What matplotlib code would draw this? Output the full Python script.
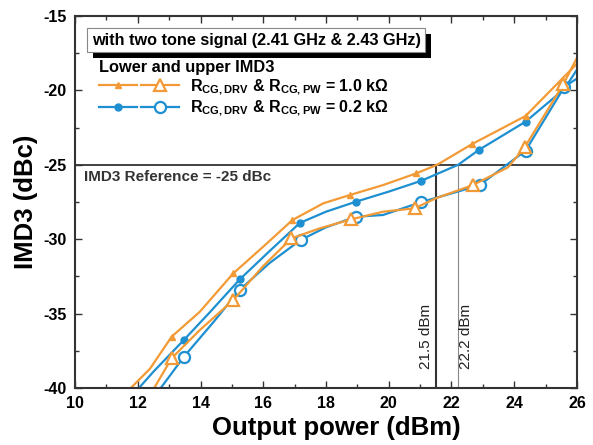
import matplotlib
matplotlib.use("Agg")
import matplotlib.pyplot as plt
from matplotlib.lines import Line2D
from matplotlib.legend_handler import HandlerTuple
from matplotlib.ticker import MultipleLocator
import matplotlib.patheffects as pe

plt.rcParams['font.family'] = ['Liberation Sans', 'DejaVu Sans']
plt.rcParams['mathtext.fontset'] = 'custom'
plt.rcParams['mathtext.rm'] = 'Liberation Sans'
plt.rcParams['mathtext.bf'] = 'Liberation Sans:bold'
plt.rcParams['axes.unicode_minus'] = False

# 1.0 kOhm, filled triangles
x_hi_a = [11.4, 12.39, 13.08, 13.98, 15.04, 16.0, 16.93, 17.91, 18.76, 19.82, 20.88, 21.54, 22.66, 24.36, 26.0]
y_hi_a = [-40.8, -38.7, -36.55, -34.87, -32.3, -30.5, -28.71, -27.59, -27.03, -26.36, -25.57, -25.0, -23.6, -21.72, -18.2]
mk_hi_a = [2, 4, 6, 8, 10, 12, 13]

# 1.0 kOhm, open triangles
x_hi_b = [12.3, 13.08, 13.98, 15.04, 16.0, 16.9, 17.8, 18.81, 19.82, 20.83, 21.5, 22.68, 23.8, 24.33, 25.57, 26.0]
y_hi_b = [-40.8, -38.0, -36.1, -34.1, -31.8, -29.94, -29.27, -28.66, -28.15, -27.92, -27.25, -26.36, -25.17, -23.83, -19.57, -17.8]
mk_hi_b = [1, 3, 5, 7, 9, 11, 13, 14]

# 0.2 kOhm, filled circles
x_lo_a = [11.7, 12.5, 13.47, 14.3, 15.25, 16.2, 17.17, 18.0, 18.95, 20.0, 21.04, 22.21, 22.87, 24.36, 25.6, 26.0]
y_lo_a = [-40.8, -38.9, -36.77, -34.9, -32.7, -30.8, -28.9, -28.15, -27.48, -26.8, -26.07, -25.0, -24.0, -22.1, -19.9, -18.6]
mk_lo_a = [2, 4, 6, 8, 10, 12, 13]

# 0.2 kOhm, open circles
x_lo_b = [12.45, 13.47, 14.4, 15.25, 16.2, 17.19, 18.0, 18.95, 19.82, 21.04, 22.2, 22.9, 24.36, 25.6, 26.0]
y_lo_b = [-40.8, -37.9, -35.6, -33.4, -31.6, -30.05, -29.2, -28.49, -28.37, -27.5, -26.8, -26.36, -24.05, -19.75, -19.2]
mk_lo_b = [1, 3, 5, 7, 9, 11, 12, 13]

ref_level = -25
cross_hi = 21.5
cross_lo = 22.2

orange = '#F29A35'
blue = '#1E8FD0'

fig = plt.figure(figsize=(5.93, 4.45), dpi=100)
ax = fig.add_axes([0.1265, 0.128, 0.8465, 0.836])

l_lo_a, = ax.plot(x_lo_a, y_lo_a, color=blue, lw=1.6, marker='o', ms=5, markevery=mk_lo_a)
l_lo_b, = ax.plot(x_lo_b, y_lo_b, color=blue, lw=1.6, marker='o', ms=8, mfc='white', mew=1.6, markevery=mk_lo_b)
l_hi_a, = ax.plot(x_hi_a, y_hi_a, color=orange, lw=1.6, marker='^', ms=5, markevery=mk_hi_a)
l_hi_b, = ax.plot(x_hi_b, y_hi_b, color=orange, lw=1.6, marker='^', ms=9, mfc='white', mew=1.6, markevery=mk_hi_b)

# reference line and crossing points
ax.axhline(ref_level, color='#333333', lw=1.3, zorder=1)
ax.plot([cross_hi, cross_hi], [-40, ref_level], color='#333333', lw=1.5, zorder=1)
ax.plot([cross_lo, cross_lo], [-40, ref_level], color='#888888', lw=0.8, zorder=1)
ax.text(10.3, -25.8, 'IMD3 Reference = -25 dBc', fontsize=11, fontweight='bold',
        color='#333333', va='center', ha='left')
ax.text(cross_hi - 0.3, -36.5, '21.5 dBm', rotation=90, fontsize=11,
        ha='center', va='center', color='#222222')
ax.text(cross_lo + 0.27, -36.5, '22.2 dBm', rotation=90, fontsize=11,
        ha='center', va='center', color='#222222')

# boxed condition label with shadow
box_txt = ax.text(0.033, 0.9355, 'with two tone signal (2.41 GHz & 2.43 GHz)',
                  transform=ax.transAxes, fontsize=11.7, fontweight='bold',
                  va='center', ha='left', color='black',
                  bbox=dict(boxstyle='square,pad=0.28', fc='white', ec='#888888', lw=0.8))
box_txt.get_bbox_patch().set_path_effects([
    pe.SimplePatchShadow(offset=(4, -4), shadow_rgbFace='black', alpha=1.0),
    pe.Normal()])

h1a = Line2D([], [], color=orange, lw=1.6, marker='^', ms=5)
h1b = Line2D([], [], color=orange, lw=1.6, marker='^', ms=9, mfc='white', mew=1.6)
h2a = Line2D([], [], color=blue, lw=1.6, marker='o', ms=5)
h2b = Line2D([], [], color=blue, lw=1.6, marker='o', ms=8, mfc='white', mew=1.6)
lab1 = r'R$_{\mathbf{CG,DRV}}$ & R$_{\mathbf{CG,PW}}$ = 1.0 k' + '\u03a9'
lab2 = r'R$_{\mathbf{CG,DRV}}$ & R$_{\mathbf{CG,PW}}$ = 0.2 k' + '\u03a9'
leg = ax.legend([(h1a, h1b), (h2a, h2b)], [lab1, lab2],
                handler_map={tuple: HandlerTuple(ndivide=None, pad=0.3)},
                loc='upper left', bbox_to_anchor=(0.032, 0.902), frameon=False,
                borderpad=0, handlelength=5.0, handletextpad=0.7, labelspacing=0.12,
                title='Lower and upper IMD3', alignment='left',
                prop={'weight': 'bold', 'size': 11.5},
                title_fontproperties={'weight': 'bold', 'size': 11.8})

ax.set_xlim(10, 26)
ax.set_ylim(-40, -15)
ax.xaxis.set_major_locator(MultipleLocator(2))
ax.xaxis.set_minor_locator(MultipleLocator(1))
ax.yaxis.set_major_locator(MultipleLocator(5))
ax.yaxis.set_minor_locator(MultipleLocator(2.5))
ax.tick_params(which='both', direction='in', top=True, right=True, color='#333333')
ax.tick_params(which='major', length=5, width=1, labelsize=11.5, pad=6)
ax.tick_params(which='minor', length=3, width=1)
for lbl in ax.get_xticklabels() + ax.get_yticklabels():
    lbl.set_fontweight('bold')
for s in ax.spines.values():
    s.set_color('#333333')
    s.set_linewidth(1.5)

ax.set_xlabel('Output power (dBm)', fontsize=18.5, fontweight='bold', labelpad=1)
ax.xaxis.set_label_coords(0.52, -0.075)
ax.set_ylabel('IMD3 (dBc)', fontsize=18.5, fontweight='bold', labelpad=4)

fig.savefig('out.png', dpi=100)
